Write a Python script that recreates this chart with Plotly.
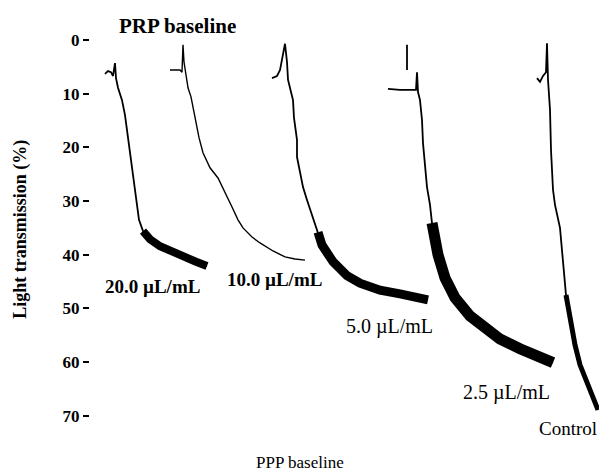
import plotly.graph_objects as go

# ---- data (time in arbitrary units, light transmission in %) ----
t_20 = [15, 18, 21, 23, 25, 26, 28, 32, 35, 37, 40, 43, 46, 49, 53, 60, 70, 82, 95, 106, 117]
v_20 = [6.3, 5.8, 6.0, 6.7, 4.3, 7.1, 8.9, 11.2, 14.0, 16.8, 20.5, 25.1, 29.8, 33.5, 35.6, 37.1, 38.4, 39.5, 40.6, 41.3, 42.1]

t_10 = [80, 90, 92, 93, 94, 96, 98, 101, 104, 106, 109, 113, 120, 128, 135, 142, 148, 153, 162, 170, 183, 195, 205, 215]
v_10 = [5.6, 5.6, 6.0, 0.9, 4.1, 6.5, 8.9, 10.6, 13.4, 15.5, 18.2, 21.0, 23.8, 25.7, 28.3, 31.1, 33.5, 35.0, 36.7, 37.8, 39.3, 40.4, 40.8, 41.0]

t_5 = [182, 187, 190, 192, 195, 197, 198, 201, 203, 204, 207, 207, 210, 213, 217, 223, 228, 232, 243, 257, 270, 290, 310, 325, 338]
v_5 = [7.1, 6.7, 5.6, 3.4, 0.7, 4.1, 7.4, 9.7, 11.2, 14.5, 18.6, 21.8, 24.6, 27.4, 29.8, 33.0, 35.8, 38.2, 41.3, 43.9, 45.3, 46.6, 47.3, 47.9, 48.4]

t_25 = [317, 317, None, 298, 310, 326, 327, 328, 330, 332, 333, 335, 337, 340, 342, 345, 348, 355, 365, 380, 395, 410, 430, 450, 463]
v_25 = [0.9, 5.6, None, 9.1, 9.3, 9.3, 6.0, 9.7, 11.2, 14.9, 19.2, 23.3, 27.4, 30.7, 34.1, 37.2, 40.0, 44.3, 48.0, 51.4, 53.6, 55.7, 57.5, 59.0, 60.1]

t_ctrl = [447, 450, 453, 456, 457, 458, 460, 461, 463, 465, 470, 473, 476, 480, 485, 490, 497, 503, 508]
v_ctrl = [7.1, 7.8, 6.7, 6.0, 0.6, 7.4, 13.0, 20.5, 27.9, 30.7, 35.0, 41.0, 47.5, 52.1, 56.8, 60.5, 63.9, 66.7, 68.9]

y_ticks = [0, 10, 20, 30, 40, 50, 60, 70]
labels = ["20.0 µL/mL", "10.0 µL/mL", "5.0 µL/mL", "2.5 µL/mL", "Control"]

# index where the noisy (thick) part of each trace begins
band_start = {"20": 14, "5": 16, "25": 14, "ctrl": 12}

fig = go.Figure()

def add(t, v, w=1.8):
    fig.add_trace(go.Scatter(x=t, y=v, mode="lines", line=dict(color="black", width=w),
                             connectgaps=False, showlegend=False, hoverinfo="skip"))

add(t_20, v_20)
add(t_20[band_start["20"]:], v_20[band_start["20"]:], 8)
add(t_10, v_10, 1.4)
add(t_5, v_5)
add(t_5[band_start["5"]:], v_5[band_start["5"]:], 9)
add(t_25, v_25)
add(t_25[band_start["25"]:], v_25[band_start["25"]:], 11)
add(t_ctrl, v_ctrl)
add(t_ctrl[band_start["ctrl"]:], v_ctrl[band_start["ctrl"]:], 5)

serif = "Liberation Serif"
fig.update_layout(
    width=599, height=473,
    margin=dict(l=90, r=0, t=30, b=33),
    paper_bgcolor="white", plot_bgcolor="white",
    xaxis=dict(range=[0, 509], visible=False),
    yaxis=dict(range=[74.5, -1.86], tickvals=y_ticks, ticks="outside", ticklen=6,
               tickwidth=1.5, tickcolor="black", showgrid=False, zeroline=False,
               showline=False,
               tickfont=dict(family=serif, size=17, color="black", weight="bold")),
)

def note(text, x, y, xref="x", yref="y", size=16, bold=False, xanchor="center", angle=0):
    fig.add_annotation(text=text, x=x, y=y, xref=xref, yref=yref, showarrow=False,
                       xanchor=xanchor, yanchor="middle", textangle=angle,
                       font=dict(family=serif, size=size, color="black",
                                 weight="bold" if bold else "normal"))

note(labels[0], 62, 45.9, size=19, bold=True)
note(labels[1], 184, 44.7, size=19, bold=True)
note(labels[2], 299, 53.4, size=20)
note(labels[3], 416, 65.6, size=20)
note(labels[4], 509, 72.3, size=19, xanchor="right")
note("PRP baseline", 87, 1.01, yref="paper", size=21, bold=True)
note("PPP baseline", 210, -0.054, yref="paper", size=17)
note("Light transmission (%)", -0.1356, 0.515, xref="paper", yref="paper", size=18, bold=True, angle=-90)

# remove the default page margin so the 599x473 figure fills the window exactly
fig.write_html("out.html",
               config={"displayModeBar": False},
               post_script="document.body.style.margin='0';document.body.style.overflow='hidden';")
